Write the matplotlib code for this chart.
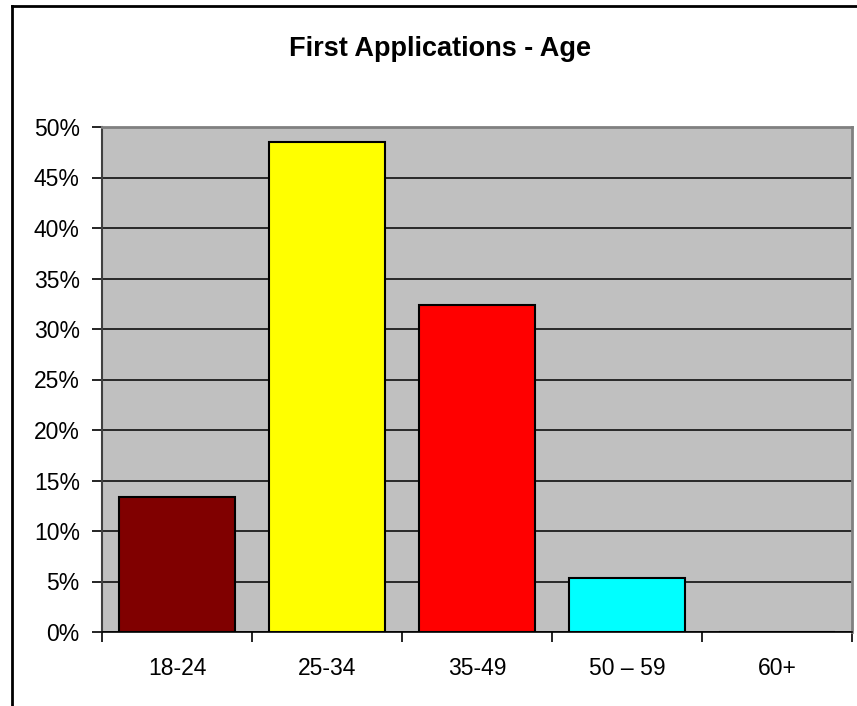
import matplotlib
matplotlib.use("Agg")
import matplotlib.pyplot as plt
from matplotlib.lines import Line2D

plt.rcParams['font.family'] = ['Liberation Sans', 'DejaVu Sans']

categories = ['18-24', '25-34', '35-49', '50 \u2013 59', '60+']
shares = [13.4, 48.5, 32.4, 5.35, 0.0]
bar_colors = ['#800000', '#FFFF00', '#FF0000', '#00FFFF', '#0000FF']
yticks = [0, 5, 10, 15, 20, 25, 30, 35, 40, 45, 50]

fig = plt.figure(figsize=[8.57, 7.06], dpi=100)
ax = fig.add_axes([102 / 857, 74 / 706, 750 / 857, 505 / 706])
ax.set_facecolor('#C0C0C0')

x = list(range(len(categories)))
ax.bar(x, shares, width=0.775, color=bar_colors, edgecolor='black', linewidth=1.5, zorder=3)

ax.set_xlim(-0.5, len(categories) - 0.5)
ax.set_ylim(0, 50)
ax.set_yticks(yticks)
ax.set_yticklabels([str(v) + '%' for v in yticks])
ax.yaxis.grid(True, color='black', linewidth=1.1, zorder=1)

# ticks between the categories, labels in the middle
ax.set_xticks([i - 0.5 for i in range(len(categories) + 1)])
ax.set_xticklabels([])
ax.set_xticks(x, minor=True)
ax.set_xticklabels(categories, minor=True)
ax.tick_params(axis='x', which='minor', length=0, pad=18, labelsize=16.5)
ax.tick_params(axis='x', which='major', direction='out', length=7, width=1.2)
ax.tick_params(axis='y', direction='out', length=7, width=1.2, pad=9, labelsize=16.5)

for side in ['top', 'right']:
    ax.spines[side].set_color('#808080')
    ax.spines[side].set_linewidth(2)
ax.spines['left'].set_color('#404040')
ax.spines['left'].set_linewidth(1.5)
ax.spines['bottom'].set_color('black')
ax.spines['bottom'].set_linewidth(1.2)

fig.text(440 / 857, 1 - 49 / 706, 'First Applications - Age', ha='center', va='center',
         fontsize=19.5, fontweight='bold')

# chart area border (cropped on the right and bottom)
fig.add_artist(Line2D([12 / 857, 12 / 857], [0, 1 - 6 / 706], color='black', linewidth=2,
                      transform=fig.transFigure))
fig.add_artist(Line2D([12 / 857, 1], [1 - 6 / 706, 1 - 6 / 706], color='black', linewidth=2,
                      transform=fig.transFigure))

fig.savefig('out.png', dpi=100)
